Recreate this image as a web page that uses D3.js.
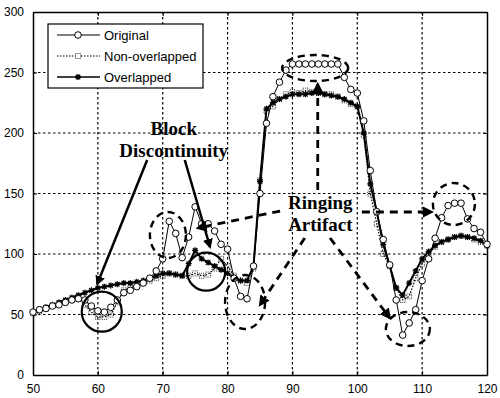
<!DOCTYPE html>
<html>
<head>
<meta charset="utf-8">
<script src="https://cdn.jsdelivr.net/npm/d3@7"></script>
<style>
  body { margin: 0; background: #fff; }
  svg { display: block; }
  .tick text { font-family: "Liberation Sans", Arial, sans-serif; font-size: 12px; fill: #000; }
</style>
</head>
<body>
<div id="chart"></div>
<script>
// sample positions (pixel index along the row)
var xs = d3.range(50, 121);

var original = [52,54,55,57,58,60,62,63,62,57,
                53,52,56,62,68,70,73,76,80,86,
                96,127,117,97,114,139,125,125,119,108,
                104,80,65,63,90,150,208,230,242,252,
                257,257,257,257,257,257,257,257,246,236,
                233,210,169,135,112,91,62,33,43,54,
                78,96,113,130,140,142,142,129,121,118,108];

var nonOverlapped = [51,53,55,57,59,61,63,65,58,52,
                     48,48,50,60,70,72,74,76,78,80,
                     82,84,83,82,82,84,82,83,88,96,
                     90,82,78,76,88,161,218,222,228,232,
                     234,233,235,234,233,232,232,230,227,224,
                     222,198,150,125,100,90,72,62,65,80,
                     92,100,106,110,112,114,115,114,112,110,107];

var overlapped = [52,54,56,58,60,62,64,66,68,70,
                  72,73,74,75,76,76,77,78,80,82,
                  84,84,83,82,92,103,96,93,90,87,
                  84,80,78,78,90,160,220,225,228,230,
                  232,232,232,233,233,232,231,230,228,225,
                  222,200,158,135,108,90,72,66,76,86,
                  96,102,107,110,112,114,115,114,113,111,107];

var xTicks = [50,60,70,80,90,100,110,120];
var yTicks = [0,50,100,150,200,250,300];
var legendNames = ["Original", "Non-overlapped", "Overlapped"];

// annotations, in data units
var solidCircles = [[60.6, 52.3, 20], [76.7, 85.4, 19]];
var dashedEllipses = [[70.8, 115.7, 18, 23], [82.7, 60.3, 20, 27], [93.5, 253.7, 33, 13],
                      [107.8, 38, 22, 17], [114.9, 141.3, 21, 21]];
var blockLines = [[67.6, 177.7, 59.9, 75.2], [73.4, 177.7, 77.3, 105.8]];
var ringArrows = [[88.1, 135.5, 75.4, 121.5], [93.9, 152.9, 93.9, 240.5], [100.7, 134.7, 111.5, 134.7],
                  [91.9, 113.2, 85.0, 57.9], [95.8, 113.2, 105.0, 47.1]];
var labels = [
  {x: 71.7, y: 198, lines: ["Block", "Discontinuity"]},
  {x: 94.3, y: 136.8, lines: ["Ringing", "Artifact"]}
];

var margin = {top: 12, right: 13, bottom: 23, left: 33},
    width = 500 - margin.left - margin.right,
    height = 398 - margin.top - margin.bottom;

var svgRoot = d3.select("#chart")
  .append("svg")
    .attr("width", 500)
    .attr("height", 398);

var defs = svgRoot.append("defs");
defs.append("marker")
    .attr("id", "head")
    .attr("viewBox", "0 0 10 10")
    .attr("refX", 8).attr("refY", 5)
    .attr("markerWidth", 4).attr("markerHeight", 4)
    .attr("markerUnits", "strokeWidth")
    .attr("orient", "auto")
  .append("path")
    .attr("d", "M0,0 L10,5 L0,10 z")
    .attr("fill", "#000");

var svg = svgRoot.append("g")
    .attr("transform", "translate(" + margin.left + "," + margin.top + ")");

var x = d3.scaleLinear().domain([50, 120]).range([0, width]);
var y = d3.scaleLinear().domain([0, 300]).range([height, 0]);

// grid
svg.append("g")
  .selectAll("line")
  .data(xTicks.slice(1, -1))
  .enter().append("line")
    .attr("x1", d => x(d)).attr("x2", d => x(d))
    .attr("y1", 0).attr("y2", height)
    .attr("stroke", "#000").attr("stroke-width", 1.2)
    .attr("stroke-dasharray", "2.5,2.5");
svg.append("g")
  .selectAll("line")
  .data(yTicks.slice(1, -1))
  .enter().append("line")
    .attr("x1", 0).attr("x2", width)
    .attr("y1", d => y(d)).attr("y2", d => y(d))
    .attr("stroke", "#000").attr("stroke-width", 1.2)
    .attr("stroke-dasharray", "2.5,2.5");

// axes
svg.append("g")
    .attr("transform", "translate(0," + height + ")")
    .call(d3.axisBottom(x).tickValues(xTicks).tickSizeInner(-4).tickSizeOuter(0).tickPadding(9));
svg.append("g")
    .call(d3.axisLeft(y).tickValues(yTicks).tickSizeInner(-4).tickSizeOuter(0).tickPadding(9));
svg.append("g")
    .call(d3.axisTop(x).tickValues(xTicks).tickSizeInner(-4).tickSizeOuter(0).tickFormat(""));
svg.append("g")
    .attr("transform", "translate(" + width + ",0)")
    .call(d3.axisRight(y).tickValues(yTicks).tickSizeInner(-4).tickSizeOuter(0).tickFormat(""));
svg.selectAll(".domain").attr("stroke", "#000").attr("stroke-width", 1.5);
svg.selectAll(".tick line").attr("stroke", "#000");

var line = d3.line().x((d, i) => x(xs[i])).y(d => y(d));

// Non-overlapped: dotted line with squares
svg.append("path")
    .datum(nonOverlapped)
    .attr("d", line)
    .attr("fill", "none").attr("stroke", "#000").attr("stroke-width", 1.2)
    .attr("stroke-dasharray", "1.5,1.5");
svg.append("g").selectAll("rect")
  .data(nonOverlapped)
  .enter().append("rect")
    .attr("x", (d, i) => x(xs[i]) - 2.5)
    .attr("y", d => y(d) - 2.5)
    .attr("width", 5).attr("height", 5)
    .attr("fill", "none").attr("stroke", "#000").attr("stroke-width", 0.8)
    .attr("stroke-dasharray", "1,1");

// Overlapped: solid line with stars
svg.append("path")
    .datum(overlapped)
    .attr("d", line)
    .attr("fill", "none").attr("stroke", "#000").attr("stroke-width", 2);
var star = "M-3,0L3,0M0,-3L0,3M-2.2,-2.2L2.2,2.2M-2.2,2.2L2.2,-2.2";
svg.append("g").selectAll("path")
  .data(overlapped)
  .enter().append("path")
    .attr("transform", (d, i) => "translate(" + x(xs[i]) + "," + y(d) + ")")
    .attr("d", star)
    .attr("stroke", "#000").attr("stroke-width", 1.3);

// Original: solid line with circles
svg.append("path")
    .datum(original)
    .attr("d", line)
    .attr("fill", "none").attr("stroke", "#000").attr("stroke-width", 1);
svg.append("g").selectAll("circle")
  .data(original)
  .enter().append("circle")
    .attr("cx", (d, i) => x(xs[i]))
    .attr("cy", d => y(d))
    .attr("r", 3.3)
    .attr("fill", "#fff").attr("stroke", "#000").attr("stroke-width", 1);

// annotations
svg.selectAll("circle.ann")
  .data(solidCircles)
  .enter().append("circle")
    .attr("class", "ann")
    .attr("cx", d => x(d[0])).attr("cy", d => y(d[1])).attr("r", d => d[2])
    .attr("fill", "none").attr("stroke", "#000").attr("stroke-width", 2.2);

svg.selectAll("ellipse.ann")
  .data(dashedEllipses)
  .enter().append("ellipse")
    .attr("class", "ann")
    .attr("cx", d => x(d[0])).attr("cy", d => y(d[1]))
    .attr("rx", d => d[2]).attr("ry", d => d[3])
    .attr("fill", "none").attr("stroke", "#000").attr("stroke-width", 2.4)
    .attr("stroke-dasharray", "7,5");

svg.selectAll("line.block")
  .data(blockLines)
  .enter().append("line")
    .attr("class", "block")
    .attr("x1", d => x(d[0])).attr("y1", d => y(d[1]))
    .attr("x2", d => x(d[2])).attr("y2", d => y(d[3]))
    .attr("stroke", "#000").attr("stroke-width", 2.5)
    .attr("marker-end", "url(#head)");

svg.selectAll("line.ring")
  .data(ringArrows)
  .enter().append("line")
    .attr("class", "ring")
    .attr("x1", d => x(d[0])).attr("y1", d => y(d[1]))
    .attr("x2", d => x(d[2])).attr("y2", d => y(d[3]))
    .attr("stroke", "#000").attr("stroke-width", 2.8)
    .attr("stroke-dasharray", "8,6")
    .attr("marker-end", "url(#head)");

// two-line bold labels
var lab = svg.selectAll("text.lab")
  .data(labels)
  .enter().append("text")
    .attr("class", "lab")
    .attr("x", d => x(d.x)).attr("y", d => y(d.y))
    .attr("text-anchor", "middle")
    .style("font-family", "'Liberation Serif', 'Times New Roman', serif")
    .style("font-weight", "bold").style("font-size", "19px");
lab.selectAll("tspan")
  .data(d => d.lines.map(t => ({t: t, x: d.x})))
  .enter().append("tspan")
    .attr("x", d => x(d.x))
    .attr("dy", (d, i) => i == 0 ? 0 : "1.15em")
    .text(d => d.t);

// legend
var legend = svg.append("g").attr("transform", "translate(15,12)");
legend.append("rect")
    .attr("width", 155).attr("height", 64)
    .attr("fill", "#fff").attr("stroke", "#000").attr("stroke-width", 1.2);
var rows = legend.selectAll("g.row")
  .data(legendNames)
  .enter().append("g")
    .attr("class", "row")
    .attr("transform", (d, i) => "translate(0," + (11 + i * 21) + ")");
rows.append("line")
    .attr("x1", 9).attr("x2", 52).attr("y1", 0).attr("y2", 0)
    .attr("stroke", "#000")
    .attr("stroke-width", (d, i) => i == 2 ? 1.5 : 1)
    .attr("stroke-dasharray", (d, i) => i == 1 ? "1.5,1.5" : null);
rows.filter((d, i) => i == 0).append("circle")
    .attr("cx", 30).attr("cy", 0).attr("r", 3.3)
    .attr("fill", "#fff").attr("stroke", "#000");
rows.filter((d, i) => i == 1).append("rect")
    .attr("x", 27.5).attr("y", -2.5).attr("width", 5).attr("height", 5)
    .attr("fill", "#fff").attr("stroke", "#000").attr("stroke-width", 0.8)
    .attr("stroke-dasharray", "1,1");
rows.filter((d, i) => i == 2).append("path")
    .attr("transform", "translate(30,0)")
    .attr("d", star).attr("stroke", "#000").attr("stroke-width", 1.3);
rows.append("text")
    .attr("x", 56).attr("y", 0).attr("dy", "0.35em")
    .style("font-family", "'Liberation Sans', Arial, sans-serif").style("font-size", "13px")
    .text(d => d);
</script>
</body>
</html>
